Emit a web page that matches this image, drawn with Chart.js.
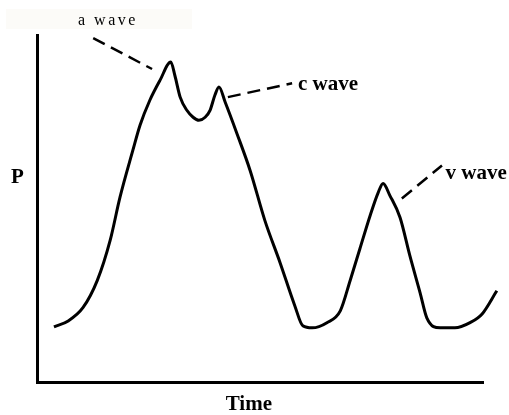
<!DOCTYPE html>
<html>
<head>
<meta charset="utf-8">
<script src="https://cdn.jsdelivr.net/npm/chart.js@4"></script>
<style>
  html, body { margin: 0; padding: 0; background: #fff; }
  #wrap { width: 509px; height: 415px; }
</style>
</head>
<body>
<div id="wrap"><canvas id="venousChart" width="509" height="415"></canvas></div>
<script>
// pressure trace (time and pressure in % of axis range)
const timeValues = [3.8, 7.0, 10.3, 13.5, 16.4, 18.6, 21.5, 23.1, 25.3, 27.6, 30.0, 30.9, 32.1, 33.6, 35.0, 36.3, 37.7, 38.8, 39.9, 40.8, 42.2, 44.8, 47.8, 51.1, 54.5, 57.8, 59.6, 61.7, 65.0, 68.0, 70.2, 72.4, 74.7, 76.5, 77.6, 79.1, 81.4, 83.6, 85.9, 87.4, 90.4, 93.7, 97.1, 99.8, 103.1];
const pressureValues = [15.9, 17.6, 21.4, 29.2, 40.8, 53.2, 66.8, 74.0, 81.2, 87.0, 92.2, 88.4, 82.1, 78.3, 76.3, 75.4, 76.3, 78.3, 82.7, 85.0, 80.6, 71.7, 60.9, 46.5, 34.4, 22.0, 16.2, 15.6, 17.1, 20.5, 29.2, 38.4, 48.0, 54.6, 57.2, 53.8, 47.4, 36.4, 25.7, 18.5, 15.6, 15.6, 17.1, 19.6, 26.3];

// leader lines for the wave labels
const aWaveX = [12.6, 25.8];
const aWaveY = [99.1, 90.2];
const cWaveX = [42.8, 57.2];
const cWaveY = [82.1, 86.1];
const vWaveX = [81.8, 90.8];
const vWaveY = [52.9, 62.4];

const waveLabels = ["a wave", "c wave", "v wave"];
const waveLabelX = [15.9, 58.5, 91.6];
const waveLabelY = [104.0, 85.8, 60.1];

const xAxisTitle = "Time";
const yAxisTitle = "P";

function toPoints(xs, ys) {
  return xs.map((x, i) => ({ x: x, y: ys[i] }));
}

function leader(xs, ys) {
  return {
    data: toPoints(xs, ys),
    borderColor: "#000",
    borderWidth: 2.5,
    borderDash: [13, 7],
    pointRadius: 0,
    clip: false,
  };
}

const textPlugin = {
  id: "waveText",
  beforeDraw(chart) {
    const c = chart.ctx;
    c.save();
    c.fillStyle = "#fcfbf8";
    c.fillRect(6, 9, 186, 20);
    c.restore();
  },
  afterDraw(chart) {
    const c = chart.ctx;
    const xs = chart.scales.x;
    const ys = chart.scales.y;
    c.save();
    c.fillStyle = "#000";
    c.textBaseline = "middle";

    // a wave: plain, spaced
    c.font = "16px 'Liberation Serif', serif";
    c.letterSpacing = "2.5px";
    c.textAlign = "center";
    c.fillText(waveLabels[0], xs.getPixelForValue(waveLabelX[0]), ys.getPixelForValue(waveLabelY[0]));

    c.letterSpacing = "0px";
    c.font = "bold 21px 'Liberation Serif', serif";
    c.textAlign = "left";
    for (let i = 1; i < waveLabels.length; i++) {
      c.fillText(waveLabels[i], xs.getPixelForValue(waveLabelX[i]), ys.getPixelForValue(waveLabelY[i]));
    }

    c.textAlign = "center";
    c.font = "bold 21px 'Liberation Serif', serif";
    c.fillText(xAxisTitle, xs.getPixelForValue(47.5), ys.getPixelForValue(-6.4));
    c.fillText(yAxisTitle, xs.getPixelForValue(-4.4), ys.getPixelForValue(59.0));
    c.restore();
  },
};

const ctx = document.getElementById("venousChart").getContext("2d");
new Chart(ctx, {
  type: "line",
  data: {
    datasets: [
      {
        data: toPoints(timeValues, pressureValues),
        borderColor: "#000",
        borderWidth: 3,
        pointRadius: 0,
        cubicInterpolationMode: "monotone",
        clip: false,
      },
      leader(aWaveX, aWaveY),
      leader(cWaveX, cWaveY),
      leader(vWaveX, vWaveY),
    ],
  },
  options: {
    responsive: false,
    animation: false,
    devicePixelRatio: 1,
    layout: { padding: { left: 29, right: 26, top: 35, bottom: 25 } },
    plugins: {
      legend: { display: false },
      tooltip: { enabled: false },
    },
    scales: {
      x: {
        type: "linear",
        min: 0,
        max: 100,
        ticks: { display: false },
        grid: { display: false },
        border: { display: true, color: "#000", width: 3 },
      },
      y: {
        type: "linear",
        min: 0,
        max: 100,
        ticks: { display: false },
        grid: { display: false },
        border: { display: true, color: "#000", width: 3 },
      },
    },
  },
  plugins: [textPlugin],
});
</script>
</body>
</html>
